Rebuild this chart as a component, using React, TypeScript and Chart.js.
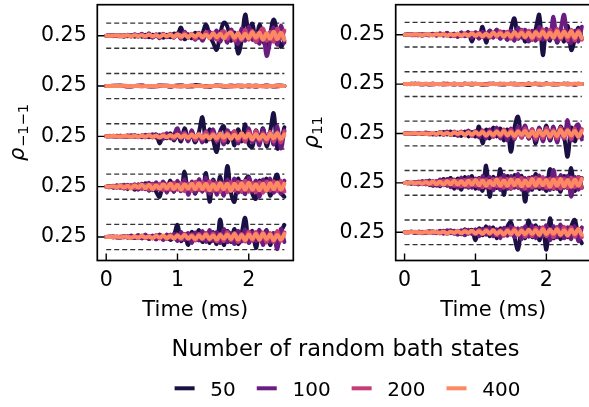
import React, { useEffect, useRef } from 'react';
import { Chart, registerables } from 'chart.js';

Chart.register(...registerables);

// ---------------- data ----------------
const TIME = [0, 0.05, 0.1, 0.15, 0.2, 0.25, 0.3, 0.35, 0.4, 0.45, 0.5, 0.55, 0.6, 0.65, 0.7, 0.75, 0.8, 0.85, 0.9, 0.95,
  1.0, 1.05, 1.1, 1.15, 1.2, 1.25, 1.3, 1.35, 1.4, 1.45, 1.5, 1.55, 1.6, 1.65, 1.7, 1.75, 1.8, 1.85, 1.9, 1.95,
  2.0, 2.05, 2.1, 2.15, 2.2, 2.25, 2.3, 2.35, 2.4, 2.45, 2.5];
const SERIES_LABELS = ['50', '100', '200', '400'];
const SERIES_COLORS = ['#1b1044', '#6a1c81', '#c63d76', '#fc8961'];
const ROW_OFFSETS = [0.4, 0.3, 0.2, 0.1, 0];
const TICK_LABEL = '0.25';
const X_TICKS = [0, 1, 2];
const DASH_OFFSET = 0.025;
const DEV_UNIT = 0.001; // deviations below are in units of 1e-3
const LEGEND_TITLE = 'Number of random bath states';
const X_TITLE = 'Time (ms)';

// Left panel (rho_{-1-1}), rows top -> bottom
const L0_S50 = [0,0,1,0,-1,1,-1,1,-2,1,-2,2,-3,2,-1,3,-4,2,-3,4,3,16,-7,3,-5,6,-4,5,22,2,-14,-28,4,26,18,-10,6,-35,-10,42,10,24,-12,22,-8,-22,4,32,6,-22,-10];
const L0_S100 = [0,1,-1,1,0,-2,2,-1,3,-2,4,-3,5,-4,3,-5,4,-3,2,-4,5,-6,8,-4,3,-8,6,-10,4,8,-6,10,-12,8,-14,12,-6,-16,14,-10,18,-8,6,-16,10,-40,-12,16,-18,20,-14];
const L0_S200 = [0,0,1,-1,1,-1,1,-2,2,-1,2,-2,3,-2,2,-3,3,-2,4,-3,2,-4,5,-3,4,-6,5,-4,7,-5,6,-8,4,9,-6,8,-10,6,-9,12,-8,10,-12,6,14,-10,8,-12,14,-6,10];
const L0_S400 = [0,0,0,1,-1,0,1,-1,1,-1,1,-1,2,-1,1,-2,2,-1,2,-2,3,-2,2,-3,3,-2,4,-3,2,-4,5,-3,4,-5,3,6,-4,5,-6,4,-5,7,-4,6,-8,5,-6,8,-7,6,-8];

const L1_S50 = [0,0,0,0,1,0,0,-1,0,0,1,0,0,-1,0,1,0,0,-1,0,1,1,0,-1,0,2,1,0,-1,-1,0,1,0,-1,0,1,0,0,-1,0,1,0,-1,0,0,1,0,-1,0,1,0];
const L1_S100 = [0,0,0,1,0,0,-1,0,0,1,0,0,-1,0,0,1,1,0,-1,0,0,1,0,0,-1,0,1,0,0,-1,0,0,1,0,-1,0,0,1,0,0,-1,0,1,0,0,-1,0,0,1,0,0];
const L1_S200 = [0,0,1,0,0,0,-1,0,0,0,1,0,0,0,-1,0,0,1,0,0,0,-1,0,0,1,0,0,0,-1,0,0,1,0,0,0,-1,0,0,1,0,0,0,-1,0,0,1,0,0,-1,0,0];
const L1_S400 = [0,0,0,0,0,1,0,0,0,0,-1,0,0,0,0,1,0,0,0,0,-1,0,0,0,1,0,0,0,-1,0,0,0,1,0,0,0,-1,0,0,0,1,0,0,0,-1,0,0,0,1,0,0];

const L2_S50 = [0,0,0,1,-1,0,1,-1,2,-1,1,-2,3,-2,4,-14,3,-4,6,-8,5,-10,16,-6,4,-12,8,38,-10,14,-8,-31,10,20,-12,6,-18,14,-10,24,-16,-21,12,-8,16,-20,10,46,-24,-8,18];
const L2_S100 = [0,0,1,-1,1,0,-1,2,-1,1,-2,3,-2,4,-3,2,-5,6,-4,3,16,-6,8,-10,12,-8,6,-12,10,-6,14,-10,8,-16,12,-4,10,-14,6,-10,16,-12,6,-18,14,-10,8,-16,20,-24,12];
const L2_S200 = [0,1,0,-1,1,-1,2,-1,1,-2,2,-1,3,-2,2,-3,4,-2,3,-5,4,-3,6,-4,5,-7,4,-6,8,-5,6,-8,5,-9,7,-6,10,-8,6,-10,9,-7,11,-8,6,-12,9,-10,8,-12,10];
const L2_S400 = [0,0,1,0,-1,1,0,-1,1,-1,1,-1,2,-1,1,-2,1,-2,2,-1,3,-2,2,-3,3,-2,4,-3,2,-4,3,-4,5,-3,4,-5,3,-4,6,-3,5,-6,4,-5,3,-6,5,-4,6,-5,4];

const L3_S50 = [0,1,-2,3,-2,4,-5,3,-6,5,-4,7,-8,6,-10,-20,8,-6,12,-10,10,-8,30,-12,6,-14,12,-8,27,-30,14,-10,20,-16,41,-12,-30,16,-10,12,20,-14,-24,12,-10,16,-18,8,24,-12,-20];
const L3_S100 = [0,-1,2,-2,3,-4,4,-3,5,-6,6,-5,8,-7,9,-6,10,-12,8,-10,12,-9,14,-16,10,-12,15,-10,18,-14,12,-16,10,-18,14,-8,16,-12,10,-15,18,-10,12,-20,14,-8,16,-12,10,-14,12];
const L3_S200 = [0,1,-1,2,-2,3,-3,4,-3,4,-5,4,-6,5,-4,6,-7,5,-6,8,-6,7,-9,6,-8,10,-7,9,-8,11,-9,8,-10,7,-11,9,-8,10,-9,12,-10,8,-11,9,-12,10,-8,11,-9,12,-10];
const L3_S400 = [0,0,1,-1,2,-2,2,-3,3,-2,4,-3,4,-5,3,-4,5,-4,6,-5,4,-6,5,-4,6,-5,7,-5,6,-7,5,-6,7,-5,6,-8,6,-5,7,-6,8,-6,5,-7,6,-8,7,-5,8,-6,6];

const L4_S50 = [0,0,1,-1,0,1,-1,1,-2,2,-2,3,-4,2,-3,5,-4,3,-6,4,24,-8,6,-16,10,-6,14,-10,8,-12,10,-14,35,-16,12,-10,16,-14,8,38,-10,12,-22,8,-12,14,-16,6,-20,10,24];
const L4_S100 = [0,1,-1,1,-2,2,-1,3,-2,4,-3,5,-4,3,-5,4,-6,5,-3,6,-8,10,-6,8,-12,9,-7,12,-10,14,-8,10,-12,16,-10,8,-14,12,-9,15,-12,10,-8,14,-16,12,-10,8,-24,16,-10];
const L4_S200 = [0,0,1,-1,1,-1,2,-2,1,-2,3,-2,2,-3,4,-3,2,-4,5,-3,4,-5,6,-4,5,-7,6,-5,8,-6,7,-9,6,-8,10,-7,8,-10,6,-9,11,-8,10,-7,9,-11,8,-10,12,-8,9];
const L4_S400 = [0,0,0,1,-1,1,0,-1,1,-1,2,-1,1,-2,2,-1,3,-2,2,-3,3,-2,4,-3,2,-4,3,-3,5,-4,3,-5,4,-3,5,-4,6,-5,4,-6,5,-4,6,-5,7,-4,5,-6,4,-5,6];

// Right panel (rho_{11}), rows top -> bottom
const R0_S50 = [0,0,1,0,-1,1,0,-1,1,-1,2,-1,3,-2,2,-4,3,-2,5,-14,4,-6,16,-16,8,-5,10,-8,6,-10,12,33,-8,10,-14,6,-10,12,40,-41,8,-12,20,-16,10,-14,18,-31,-10,14,-8];
const R0_S100 = [0,1,-1,0,1,-2,1,-1,2,-2,3,-2,4,-3,2,-4,5,-3,4,-6,5,-8,6,-4,8,-6,10,-8,5,-10,8,-12,14,-6,10,-14,8,-12,16,-10,12,-8,36,-14,10,40,-12,-16,8,-14,16];
const R0_S200 = [0,0,1,-1,1,-1,0,1,-1,2,-1,2,-2,1,-3,2,-3,3,-2,4,-3,4,-5,3,-6,5,-4,7,-5,6,-8,5,-7,9,-6,8,-10,7,-9,11,-8,10,-7,12,-9,8,-11,10,-12,9,-10];
const R0_S400 = [0,0,0,1,0,-1,1,0,-1,1,-1,1,-2,1,-1,2,-2,1,-2,3,-2,2,-3,2,-3,4,-2,3,-4,3,-4,5,-3,4,-5,4,-6,5,-3,6,-5,4,-6,7,-5,6,-4,7,-6,5,-7];

const R1_S50 = [0,0,0,1,0,0,0,-1,0,0,0,1,0,0,-1,0,0,1,0,-1,0,0,-1,-1,0,1,0,0,-1,0,0,1,0,0,-1,-2,0,1,0,0,1,0,-1,0,0,1,0,0,-1,0,0];
const R1_S100 = [0,0,1,0,0,-1,0,0,1,0,0,-1,0,0,1,0,-1,0,0,1,0,0,-1,0,1,0,0,-1,0,0,1,0,-1,0,0,1,0,0,-1,0,1,0,0,-1,0,0,1,0,-1,0,0];
const R1_S200 = [0,0,0,0,1,0,0,0,-1,0,0,0,1,0,0,0,-1,0,0,0,1,0,0,-1,0,0,0,1,0,0,0,-1,0,0,0,1,0,0,0,-1,0,0,1,0,0,0,-1,0,0,1,0];
const R1_S400 = [0,0,0,0,0,0,1,0,0,0,0,0,-1,0,0,0,0,0,1,0,0,0,0,-1,0,0,0,0,1,0,0,0,0,-1,0,0,0,0,1,0,0,0,0,-1,0,0,0,0,1,0,0];

const R2_S50 = [0,0,1,-1,1,0,-1,1,-2,1,-2,3,-2,4,-3,2,-5,4,-6,3,-6,14,-20,8,-10,12,-6,10,-14,8,-37,12,34,-8,14,-10,6,-20,10,-12,16,-14,8,-10,14,-8,-47,12,-16,10,-6];
const R2_S100 = [0,1,-1,1,0,-1,2,-1,1,-2,3,-2,4,-3,3,-5,4,-3,6,-4,5,-8,6,-10,8,-6,12,-10,7,-14,10,-12,14,-8,16,-10,8,-14,12,-16,10,-12,14,-18,8,-10,27,-14,10,18,-12];
const R2_S200 = [0,0,1,-1,1,-1,1,-2,1,-2,2,-3,2,-3,4,-2,3,-4,3,-5,4,-3,6,-5,4,-7,5,-6,8,-5,7,-9,6,-8,10,-7,9,-10,6,-9,11,-8,7,-10,12,-9,8,-11,10,-8,9];
const R2_S400 = [0,0,0,1,-1,1,-1,0,1,-1,2,-1,1,-2,2,-1,2,-3,2,-2,3,-2,3,-4,2,-3,4,-3,5,-4,3,-5,4,-3,5,-6,4,-5,6,-4,5,-6,4,-5,7,-5,6,-4,5,-6,5];

const R3_S50 = [0,1,-2,2,-3,4,-3,5,-6,4,-7,8,-6,10,-12,9,-14,12,-10,14,-12,10,-16,35,-28,12,-10,28,-24,14,-12,16,-10,14,-38,10,-14,18,-12,8,-16,28,-12,10,-18,14,-10,30,-16,12,-10];
const R3_S100 = [0,-1,1,-2,3,-3,4,-5,4,-6,7,-5,8,-9,7,-10,11,-8,12,-10,9,-12,14,-10,12,-15,10,-14,16,-12,14,-10,18,-14,10,-16,12,-10,15,-12,10,-14,26,-12,16,-10,14,-28,12,-14,10];
const R3_S200 = [0,1,-1,2,-2,3,-3,3,-4,4,-5,5,-4,6,-6,5,-7,6,-8,7,-6,8,-9,7,-10,8,-7,9,-10,8,-11,9,-8,10,-12,9,-10,11,-8,12,-10,9,-11,10,-12,9,-10,11,-9,12,-10];
const R3_S400 = [0,0,1,-1,1,-2,2,-2,3,-3,3,-4,4,-3,5,-4,4,-5,5,-4,6,-5,5,-6,4,-5,7,-6,5,-6,7,-5,6,-7,5,-6,8,-6,7,-5,6,-8,7,-6,8,-7,6,-8,7,-6,8];

const R4_S50 = [0,0,1,-1,1,0,-1,2,-1,1,-2,3,-2,4,-3,2,-4,6,-3,5,-16,8,-6,12,-8,10,-12,8,-6,12,20,-10,-35,8,-12,24,-10,14,-16,8,-35,28,-12,10,-14,8,-10,12,25,-8,-22];
const R4_S100 = [0,0,1,-1,1,-2,1,-1,2,-2,3,-3,4,-2,3,-5,4,-6,5,-4,6,-8,7,-5,10,-8,6,-12,9,-7,12,-10,8,-14,12,-9,14,-12,10,-8,14,-16,12,-10,16,-12,10,-14,12,-18,10];
const R4_S200 = [0,0,1,0,-1,1,-1,2,-1,1,-2,2,-3,2,-2,3,-3,4,-2,3,-4,5,-3,6,-4,5,-6,4,-7,6,-5,8,-6,7,-9,5,-8,9,-7,10,-8,6,-10,9,-7,11,-8,10,-9,7,-10];
const R4_S400 = [0,0,0,1,0,-1,1,-1,1,0,-1,1,-2,1,-1,2,-2,2,-1,3,-2,2,-3,3,-2,4,-3,2,-4,3,-3,4,-5,3,-4,5,-3,4,-5,6,-4,5,-3,6,-5,4,-6,5,-4,6,-5];

const LEFT_ROWS = [
  [L0_S50, L0_S100, L0_S200, L0_S400],
  [L1_S50, L1_S100, L1_S200, L1_S400],
  [L2_S50, L2_S100, L2_S200, L2_S400],
  [L3_S50, L3_S100, L3_S200, L3_S400],
  [L4_S50, L4_S100, L4_S200, L4_S400],
];
const RIGHT_ROWS = [
  [R0_S50, R0_S100, R0_S200, R0_S400],
  [R1_S50, R1_S100, R1_S200, R1_S400],
  [R2_S50, R2_S100, R2_S200, R2_S400],
  [R3_S50, R3_S100, R3_S200, R3_S400],
  [R4_S50, R4_S100, R4_S200, R4_S400],
];

// ---------------- styling ----------------
const FONT = 'DejaVu Sans';
const TICK_FONT_SIZE = 20.5;
const TITLE_FONT_SIZE = 21;

function buildDatasets(rows: number[][][]) {
  const ds: any[] = [];
  ROW_OFFSETS.forEach((off) => {
    [off + DASH_OFFSET, off - DASH_OFFSET].forEach((lvl) => {
      ds.push({
        data: [{ x: TIME[0], y: lvl }, { x: TIME[TIME.length - 1], y: lvl }],
        borderColor: 'rgba(30,30,30,0.9)',
        borderWidth: 1.4,
        borderDash: [5, 3],
        tension: 0,
        pointRadius: 0,
        order: 10,
      });
    });
  });
  SERIES_LABELS.forEach((label, s) => {
    rows.forEach((row, r) => {
      ds.push({
        label,
        data: TIME.map((t, i) => ({ x: t, y: ROW_OFFSETS[r] + row[s][i] * DEV_UNIT })),
        borderColor: SERIES_COLORS[s],
        borderWidth: 4,
        tension: 0.4,
        pointRadius: 0,
        borderJoinStyle: 'round',
        borderCapStyle: 'round',
        order: 4 - s,
      });
    });
  });
  return ds;
}

function decorPlugin(labelX: number, sub: string, legend: boolean) {
  return {
    id: 'decor',
    afterDraw(chart: any) {
      const { ctx, chartArea: a, scales } = chart;
      ctx.save();
      ctx.strokeStyle = '#000';
      ctx.lineWidth = 1.4;
      ctx.beginPath();
      X_TICKS.forEach((v) => {
        const px = scales.x.getPixelForValue(v);
        ctx.moveTo(px, a.bottom);
        ctx.lineTo(px, a.bottom - 7);
      });
      ROW_OFFSETS.forEach((v) => {
        const py = scales.y.getPixelForValue(v);
        ctx.moveTo(a.left, py);
        ctx.lineTo(a.left + 7, py);
      });
      ctx.stroke();
      ctx.lineWidth = 1.7;
      ctx.strokeRect(a.left, a.top, a.right - a.left, a.bottom - a.top);

      // y label: italic rho with subscript
      const cy = (a.top + a.bottom) / 2;
      ctx.save();
      ctx.translate(labelX, cy);
      ctx.rotate(-Math.PI / 2);
      ctx.fillStyle = '#000';
      ctx.textAlign = 'left';
      ctx.textBaseline = 'alphabetic';
      ctx.font = `italic 21px "${FONT}"`;
      const w1 = ctx.measureText('ρ').width;
      ctx.font = `14.7px "${FONT}"`;
      const w2 = ctx.measureText(sub).width;
      const x0 = -(w1 + w2) / 2;
      ctx.font = `italic 21px "${FONT}"`;
      ctx.fillText('ρ', x0, 0);
      ctx.font = `14.7px "${FONT}"`;
      ctx.fillText(sub, x0 + w1 + 0.5, 3.5);
      ctx.restore();

      if (legend) {
        ctx.fillStyle = '#000';
        ctx.textBaseline = 'alphabetic';
        ctx.textAlign = 'center';
        ctx.font = `22.5px "${FONT}"`;
        const centerX = 347.5;
        ctx.fillText(LEGEND_TITLE, centerX - 2, 356);
        ctx.font = `20px "${FONT}"`;
        ctx.textAlign = 'left';
        const handle = 20, gapIn = 15.7, gapOut = 21;
        const widths = SERIES_LABELS.map((l) => ctx.measureText(l).width);
        const total = widths.reduce((s, w) => s + handle + gapIn + w, 0) + gapOut * (SERIES_LABELS.length - 1);
        let x = centerX - total / 2;
        SERIES_LABELS.forEach((l, i) => {
          ctx.strokeStyle = SERIES_COLORS[i];
          ctx.lineWidth = 4;
          ctx.beginPath();
          ctx.moveTo(x, 388.3);
          ctx.lineTo(x + handle, 388.3);
          ctx.stroke();
          x += handle + gapIn;
          ctx.fillStyle = '#000';
          ctx.fillText(l, x, 396);
          x += widths[i] + gapOut;
        });
      }
      ctx.restore();
    },
  };
}

function zeroPad(s: any) {
  s.paddingTop = 0;
  s.paddingBottom = 0;
  s.paddingLeft = 0;
  s.paddingRight = 0;
}

function makeConfig(p: {
  rows: number[][][]; yMin: number; yMax: number; yWidth: number; xHeight: number;
  padding: { top: number; right: number; bottom: number; left: number };
  labelX: number; sub: string; legend: boolean;
}): any {
  return {
    type: 'line',
    data: { datasets: buildDatasets(p.rows) },
    options: {
      animation: false,
      responsive: false,
      events: [],
      layout: { padding: p.padding },
      plugins: { legend: { display: false }, tooltip: { enabled: false }, title: { display: false } },
      scales: {
        x: {
          type: 'linear',
          min: -0.125,
          max: 2.625,
          grid: { display: false, drawTicks: false },
          border: { display: false },
          ticks: { font: { family: FONT, size: TICK_FONT_SIZE }, color: '#000', padding: 8, maxRotation: 0 },
          afterBuildTicks: (s: any) => { s.ticks = X_TICKS.map((v) => ({ value: v })); },
          afterFit: (s: any) => { s.height = p.xHeight; zeroPad(s); },
          title: { display: true, text: X_TITLE, color: '#000', font: { family: FONT, size: TITLE_FONT_SIZE }, padding: { top: 0, bottom: 0 } },
        },
        y: {
          type: 'linear',
          min: p.yMin,
          max: p.yMax,
          grid: { display: false, drawTicks: false },
          border: { display: false },
          ticks: { font: { family: FONT, size: TICK_FONT_SIZE }, color: '#000', padding: 10.6, autoSkip: false, callback: () => TICK_LABEL },
          afterBuildTicks: (s: any) => { s.ticks = ROW_OFFSETS.map((v) => ({ value: v })); },
          afterFit: (s: any) => { s.width = p.yWidth; zeroPad(s); },
        },
      },
    },
    plugins: [decorPlugin(p.labelX, p.sub, p.legend)],
  };
}

export default function App() {
  const leftRef = useRef<HTMLCanvasElement>(null);
  const rightRef = useRef<HTMLCanvasElement>(null);

  useEffect(() => {
    const left = new Chart(leftRef.current as HTMLCanvasElement, makeConfig({
      rows: LEFT_ROWS, yMin: -0.0467, yMax: 0.4616, yWidth: 97.3, xHeight: 63.1,
      padding: { top: 4.7, right: 589 - 293.3, bottom: 407 - 260.5 - 63.1, left: 0 },
      labelX: 24, sub: '−1−1', legend: true,
    }));
    const right = new Chart(rightRef.current as HTMLCanvasElement, makeConfig({
      rows: RIGHT_ROWS, yMin: -0.0571, yMax: 0.4607, yWidth: 95.7, xHeight: 63.1,
      padding: { top: 4.7, right: 4.3, bottom: 330 - 260.5 - 63.1, left: 0 },
      labelX: 18, sub: '11', legend: false,
    }));
    return () => { left.destroy(); right.destroy(); };
  }, []);

  return (
    <div style={{ position: 'fixed', left: 0, top: 0, width: 589, height: 407, overflow: 'hidden', background: '#fff' }}>
      <canvas ref={leftRef} width={589} height={407} style={{ position: 'absolute', left: 0, top: 0, width: 589, height: 407 }} />
      <canvas ref={rightRef} width={295} height={330} style={{ position: 'absolute', left: 300, top: 0, width: 295, height: 330 }} />
    </div>
  );
}
